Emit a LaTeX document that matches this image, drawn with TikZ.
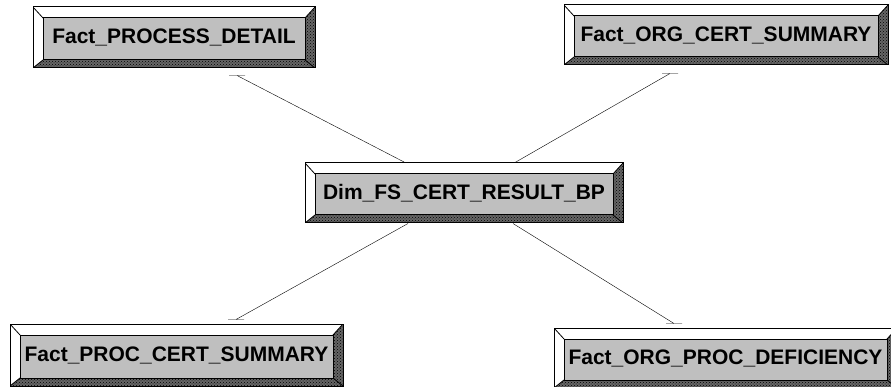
\documentclass[tikz,border=0pt]{standalone}
\usepackage{fontspec}
\setmainfont{Liberation Sans}
\usetikzlibrary{patterns}

\tikzset{
  band/.style={fill=black!60, postaction={pattern=crosshatch dots, pattern color=black}},
  tbl/.style={rectangle, draw, line width=1pt, fill=white, inner sep=0pt,
    minimum height=60pt, font=\bfseries\fontsize{21}{24}\selectfont,
    path picture={
      \coordinate (o1) at (path picture bounding box.south west);
      \coordinate (o2) at (path picture bounding box.north east);
      \coordinate (i1) at ([shift={(10pt,8pt)}]o1);
      \coordinate (i2) at ([shift={(-10pt,-11pt)}]o2);
      \path[band] (o1) -- (o1 -| o2) -- (o2) -- (i2) -- (i1 -| i2) -- (i1) -- cycle;
      \draw[fill=black!25, line width=1pt] (i1) rectangle (i2);
      \draw[line width=0.8pt] (o1) -- (i1) (o1 |- o2) -- (i1 |- i2)
        (o2) -- (i2) (o1 -| o2) -- (i1 -| i2);
    }},
  rel/.style={line width=1pt, to path={-- (\tikztotarget) +(-8,0) -- +(8,0)}}
}

\begin{document}
\begin{tikzpicture}[x=1pt, y=-1pt]
\useasboundingbox (0,0) rectangle (891,387);
\clip (0,0) rectangle (891,387);

\node [tbl, minimum width=282pt, minimum height=61pt] (pd) at (174,37.5) {Fact\_PROCESS\_DETAIL};
\node [tbl, minimum width=324pt] (ocs) at (726,35) {Fact\_ORG\_CERT\_SUMMARY};
\node [tbl, minimum width=318pt] (dim) at (464,193) {Dim\_FS\_CERT\_RESULT\_BP};
\node [tbl, minimum width=333pt, minimum height=62pt] (pcs) at (176.5,355) {Fact\_PROC\_CERT\_SUMMARY};
\node [tbl, minimum width=343pt] (opd) at (725.5,358) {Fact\_ORG\_PROC\_DEFICIENCY};

% ends of the links, just off each fact table
\coordinate (e1) at ([shift={(63,7)}]pd.south);
\coordinate (e2) at ([shift={(-56,8)}]ocs.south);
\coordinate (e3) at ([shift={(59.5,-4)}]pcs.north);
\coordinate (e4) at ([shift={(-51.5,-4)}]opd.north);

\draw ([xshift=-59pt]dim.north) to [rel] (e1);
\draw ([xshift=51pt]dim.north) to [rel] (e2);
\draw ([xshift=-56pt]dim.south) to [rel] (e3);
\draw ([xshift=49pt]dim.south) to [rel] (e4);
\end{tikzpicture}
\end{document}
